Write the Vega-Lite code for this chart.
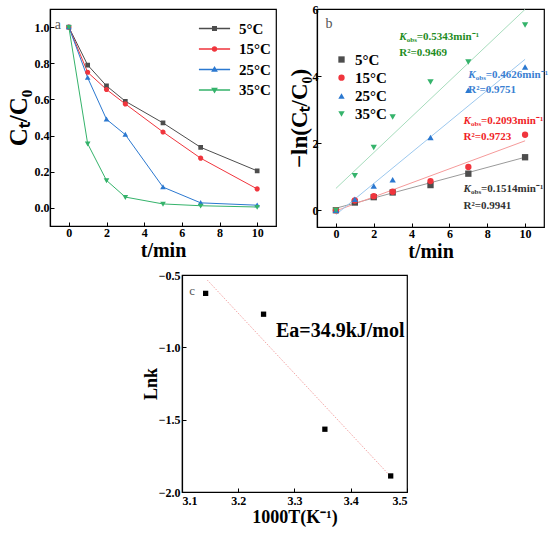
{
  "$schema": "https://vega.github.io/schema/vega-lite/v6.json",
  "padding": {"left": 5, "top": 2, "right": 0, "bottom": 0},
  "datasets": {
    "decay": [
      {"s": "5°C", "t": 0, "c": 1.0}, {"s": "5°C", "t": 1, "c": 0.79}, {"s": "5°C", "t": 2, "c": 0.675}, {"s": "5°C", "t": 3, "c": 0.59}, {"s": "5°C", "t": 5, "c": 0.47}, {"s": "5°C", "t": 7, "c": 0.335}, {"s": "5°C", "t": 10, "c": 0.205},
      {"s": "15°C", "t": 0, "c": 1.0}, {"s": "15°C", "t": 1, "c": 0.75}, {"s": "15°C", "t": 2, "c": 0.655}, {"s": "15°C", "t": 3, "c": 0.575}, {"s": "15°C", "t": 5, "c": 0.42}, {"s": "15°C", "t": 7, "c": 0.275}, {"s": "15°C", "t": 10, "c": 0.105},
      {"s": "25°C", "t": 0, "c": 1.0}, {"s": "25°C", "t": 1, "c": 0.72}, {"s": "25°C", "t": 2, "c": 0.49}, {"s": "25°C", "t": 3, "c": 0.405}, {"s": "25°C", "t": 5, "c": 0.115}, {"s": "25°C", "t": 7, "c": 0.028}, {"s": "25°C", "t": 10, "c": 0.015},
      {"s": "35°C", "t": 0, "c": 1.0}, {"s": "35°C", "t": 1, "c": 0.355}, {"s": "35°C", "t": 2, "c": 0.152}, {"s": "35°C", "t": 3, "c": 0.06}, {"s": "35°C", "t": 5, "c": 0.022}, {"s": "35°C", "t": 7, "c": 0.012}, {"s": "35°C", "t": 10, "c": 0.005}
    ],
    "lnpts": [
      {"s": "5°C", "t": 0, "v": 0}, {"s": "5°C", "t": 1, "v": 0.23}, {"s": "5°C", "t": 2, "v": 0.39}, {"s": "5°C", "t": 3, "v": 0.53}, {"s": "5°C", "t": 5, "v": 0.75}, {"s": "5°C", "t": 7, "v": 1.09}, {"s": "5°C", "t": 10, "v": 1.58},
      {"s": "15°C", "t": 0, "v": 0}, {"s": "15°C", "t": 1, "v": 0.29}, {"s": "15°C", "t": 2, "v": 0.42}, {"s": "15°C", "t": 3, "v": 0.55}, {"s": "15°C", "t": 5, "v": 0.87}, {"s": "15°C", "t": 7, "v": 1.29}, {"s": "15°C", "t": 10, "v": 2.25},
      {"s": "25°C", "t": 0, "v": 0}, {"s": "25°C", "t": 1, "v": 0.33}, {"s": "25°C", "t": 2, "v": 0.72}, {"s": "25°C", "t": 3, "v": 0.91}, {"s": "25°C", "t": 5, "v": 2.17}, {"s": "25°C", "t": 7, "v": 3.58}, {"s": "25°C", "t": 10, "v": 4.27},
      {"s": "35°C", "t": 0, "v": 0}, {"s": "35°C", "t": 1, "v": 1.03}, {"s": "35°C", "t": 2, "v": 1.87}, {"s": "35°C", "t": 3, "v": 2.78}, {"s": "35°C", "t": 5, "v": 3.82}, {"s": "35°C", "t": 7, "v": 4.42}, {"s": "35°C", "t": 10, "v": 5.52}
    ],
    "fits": [
      {"g": "5", "t": 0, "v": 0.06}, {"g": "5", "t": 10, "v": 1.58},
      {"g": "15", "t": 0, "v": -0.02}, {"g": "15", "t": 10, "v": 2.07},
      {"g": "25", "t": 0, "v": -0.13}, {"g": "25", "t": 10, "v": 4.5},
      {"g": "35", "t": 0, "v": 0.65}, {"g": "35", "t": 10, "v": 5.99}
    ],
    "notes": [
      {"g": "35", "kind": "k", "t": 3.35, "v": 5.18, "txt": "=0.5343min⁻¹"},
      {"g": "35", "kind": "r", "t": 3.35, "v": 4.7, "txt": "R²=0.9469"},
      {"g": "25", "kind": "k", "t": 7.0, "v": 4.02, "txt": "=0.4626min⁻¹"},
      {"g": "25", "kind": "r", "t": 7.0, "v": 3.58, "txt": "R²=0.9751"},
      {"g": "15", "kind": "k", "t": 6.75, "v": 2.65, "txt": "=0.2093min⁻¹"},
      {"g": "15", "kind": "r", "t": 6.75, "v": 2.19, "txt": "R²=0.9723"},
      {"g": "5", "kind": "k", "t": 6.75, "v": 0.63, "txt": "=0.1514min⁻¹"},
      {"g": "5", "kind": "r", "t": 6.75, "v": 0.12, "txt": "R²=0.9941"}
    ],
    "arr": [
      {"x": 3.142, "y": -0.627}, {"x": 3.245, "y": -0.771}, {"x": 3.354, "y": -1.566}, {"x": 3.471, "y": -1.889}
    ],
    "arrfit": [
      {"x": 3.145, "y": -0.535}, {"x": 3.469, "y": -1.885}
    ]
  },
  "vconcat": [
    {
      "spacing": 8,
      "resolve": {"scale": {"color": "independent", "shape": "independent"}, "legend": {"color": "independent", "shape": "independent"}},
      "hconcat": [
        {
          "width": 226,
          "height": 217,
          "layer": [
            {
              "data": {"name": "decay"},
              "mark": {"type": "line", "strokeWidth": 1},
              "encoding": {
                "x": {"field": "t", "type": "quantitative", "scale": {"domain": [-1, 11], "nice": false}, "axis": {"values": [0, 2, 4, 6, 8, 10], "title": "t/min", "titleFontSize": 20, "titlePadding": 2}},
                "y": {"field": "c", "type": "quantitative", "scale": {"domain": [-0.1, 1.1], "nice": false}, "axis": {"values": [0, 0.2, 0.4, 0.6, 0.8, 1.0], "format": ".1f", "title": "Cₜ/C₀", "titleFontSize": 25, "titlePadding": 3}},
                "color": {"field": "s", "type": "nominal", "scale": {"domain": ["5°C", "15°C", "25°C", "35°C"], "range": ["#4d4d4d", "#f0353d", "#2b78d0", "#35b36b"]}, "legend": {
                  "orient": "none", "legendX": 157, "legendY": 12, "title": null, "symbolSize": 12,
                  "labelFont": "Liberation Serif", "labelFontWeight": "bold", "labelFontSize": 15, "labelColor": "#000",
                  "labelOffset": 17, "rowPadding": 4.5,
                  "encoding": {"symbols": {"update": {
                    "stroke": {"signal": "datum.value === '5°C' ? '#4d4d4d' : datum.value === '15°C' ? '#f26d72' : datum.value === '25°C' ? '#4a8ad6' : '#5cc48a'"},
                    "strokeWidth": {"value": 1}}}}
                }}
              }
            },
            {
              "data": {"name": "decay"},
              "mark": {"type": "point", "filled": true, "size": 22, "opacity": 1, "strokeWidth": 0},
              "encoding": {
                "x": {"field": "t", "type": "quantitative"},
                "y": {"field": "c", "type": "quantitative"},
                "color": {"field": "s", "type": "nominal", "legend": {
                  "orient": "none", "legendX": 157, "legendY": 12, "title": null, "symbolSize": 12,
                  "labelFont": "Liberation Serif", "labelFontWeight": "bold", "labelFontSize": 15, "labelColor": "#000",
                  "labelOffset": 17, "rowPadding": 4.5,
                  "encoding": {"symbols": {"update": {
                    "stroke": {"signal": "datum.value === '5°C' ? '#4d4d4d' : datum.value === '15°C' ? '#f26d72' : datum.value === '25°C' ? '#4a8ad6' : '#5cc48a'"},
                    "strokeWidth": {"value": 1}}}}
                }},
                "shape": {"field": "s", "type": "nominal", "scale": {"domain": ["5°C", "15°C", "25°C", "35°C"], "range": [
                  "M-9,0H9M-1,-1H1V1H-1Z",
                  "M-9,0H9M1.1,0A1.1,1.1,0,1,1,-1.1,0A1.1,1.1,0,1,1,1.1,0Z",
                  "M-9,0H9M0,-1.2L1.2,0.9H-1.2Z",
                  "M-9,0H9M0,1.2L1.2,-0.9H-1.2Z"
                ]}, "legend": {
                  "orient": "none", "legendX": 157, "legendY": 12, "title": null, "symbolSize": 12,
                  "labelFont": "Liberation Serif", "labelFontWeight": "bold", "labelFontSize": 15, "labelColor": "#000",
                  "labelOffset": 17, "rowPadding": 4.5,
                  "encoding": {"symbols": {"update": {
                    "stroke": {"signal": "datum.value === '5°C' ? '#4d4d4d' : datum.value === '15°C' ? '#f26d72' : datum.value === '25°C' ? '#4a8ad6' : '#5cc48a'"},
                    "strokeWidth": {"value": 1}}}}
                }}
              }
            },
            {
              "data": {"values": [{"lab": "a", "t": -0.75, "c": 1.01}]},
              "mark": {"type": "text", "align": "left", "baseline": "middle", "fontSize": 14, "color": "#555", "font": "Liberation Serif"},
              "encoding": {
                "x": {"field": "t", "type": "quantitative"},
                "y": {"field": "c", "type": "quantitative"},
                "text": {"field": "lab"}
              }
            }
          ]
        },
        {
          "width": 227,
          "height": 218,
          "layer": [
            {
              "data": {"name": "fits"},
              "mark": {"type": "line", "strokeWidth": 1, "clip": true},
              "encoding": {
                "x": {"field": "t", "type": "quantitative", "scale": {"domain": [-1, 11], "nice": false}, "axis": {"values": [0, 2, 4, 6, 8, 10], "title": "t/min", "titleFontSize": 20, "titlePadding": 2}},
                "y": {"field": "v", "type": "quantitative", "scale": {"domain": [-0.5, 6], "nice": false}, "axis": {"values": [0, 1, 2, 3, 4, 5, 6], "format": "d", "title": "−ln(Cₜ/C₀)", "titleFontSize": 23, "titlePadding": 1, "labelPadding": 3}},
                "detail": {"field": "g"},
                "stroke": {"condition": [
                  {"test": "datum.g === '5'", "value": "#9a9a9a"},
                  {"test": "datum.g === '15'", "value": "#f59a9a"},
                  {"test": "datum.g === '25'", "value": "#9cc8ee"}
                ], "value": "#a6dcbc"}
              }
            },
            {
              "data": {"name": "lnpts"},
              "mark": {"type": "point", "filled": true, "size": 40, "opacity": 1},
              "encoding": {
                "x": {"field": "t", "type": "quantitative"},
                "y": {"field": "v", "type": "quantitative"},
                "color": {"field": "s", "type": "nominal", "scale": {"domain": ["5°C", "15°C", "25°C", "35°C"], "range": ["#4d4d4d", "#f0353d", "#2b78d0", "#35b36b"]}, "legend": {
                  "orient": "none", "legendX": 17, "legendY": 43, "title": null, "symbolSize": 40,
                  "labelFont": "Liberation Serif", "labelFontWeight": "bold", "labelFontSize": 15, "labelColor": "#000",
                  "labelOffset": 6, "rowPadding": 2.2
                }},
                "shape": {"field": "s", "type": "nominal", "scale": {"domain": ["5°C", "15°C", "25°C", "35°C"], "range": ["square", "circle", "triangle-up", "triangle-down"]}, "legend": {
                  "orient": "none", "legendX": 17, "legendY": 43, "title": null, "symbolSize": 40,
                  "labelFont": "Liberation Serif", "labelFontWeight": "bold", "labelFontSize": 15, "labelColor": "#000",
                  "labelOffset": 6, "rowPadding": 2.2
                }}
              }
            },
            {
              "data": {"name": "notes"},
              "transform": [{"filter": "datum.kind === 'k'"}],
              "mark": {"type": "text", "text": "K", "align": "left", "baseline": "middle", "fontSize": 11, "fontWeight": "bold", "fontStyle": "italic", "font": "Liberation Serif"},
              "encoding": {
                "x": {"field": "t", "type": "quantitative"},
                "y": {"field": "v", "type": "quantitative"},
                "color": {"condition": [
                  {"test": "datum.g === '5'", "value": "#333333"},
                  {"test": "datum.g === '15'", "value": "#f01e28"},
                  {"test": "datum.g === '25'", "value": "#3a80d2"}
                ], "value": "#1e8c1e"}
              }
            },
            {
              "data": {"name": "notes"},
              "transform": [{"filter": "datum.kind === 'k'"}],
              "mark": {"type": "text", "text": "obs", "align": "left", "baseline": "middle", "dx": 7.5, "dy": 3, "fontSize": 7, "fontWeight": "bold", "font": "Liberation Serif"},
              "encoding": {
                "x": {"field": "t", "type": "quantitative"},
                "y": {"field": "v", "type": "quantitative"},
                "color": {"condition": [
                  {"test": "datum.g === '5'", "value": "#333333"},
                  {"test": "datum.g === '15'", "value": "#f01e28"},
                  {"test": "datum.g === '25'", "value": "#3a80d2"}
                ], "value": "#1e8c1e"}
              }
            },
            {
              "data": {"name": "notes"},
              "transform": [{"filter": "datum.kind === 'k'"}],
              "mark": {"type": "text", "align": "left", "baseline": "middle", "dx": 17.5, "fontSize": 11, "fontWeight": "bold", "font": "Liberation Serif"},
              "encoding": {
                "x": {"field": "t", "type": "quantitative"},
                "y": {"field": "v", "type": "quantitative"},
                "text": {"field": "txt"},
                "color": {"condition": [
                  {"test": "datum.g === '5'", "value": "#333333"},
                  {"test": "datum.g === '15'", "value": "#f01e28"},
                  {"test": "datum.g === '25'", "value": "#3a80d2"}
                ], "value": "#1e8c1e"}
              }
            },
            {
              "data": {"name": "notes"},
              "transform": [{"filter": "datum.kind === 'r'"}],
              "mark": {"type": "text", "align": "left", "baseline": "middle", "fontSize": 11, "fontWeight": "bold", "font": "Liberation Serif"},
              "encoding": {
                "x": {"field": "t", "type": "quantitative"},
                "y": {"field": "v", "type": "quantitative"},
                "text": {"field": "txt"},
                "color": {"condition": [
                  {"test": "datum.g === '5'", "value": "#333333"},
                  {"test": "datum.g === '15'", "value": "#f01e28"},
                  {"test": "datum.g === '25'", "value": "#3a80d2"}
                ], "value": "#1e8c1e"}
              }
            },
            {
              "data": {"values": [{"lab": "b", "t": -0.55, "v": 5.55}]},
              "mark": {"type": "text", "align": "left", "baseline": "middle", "fontSize": 14, "color": "#555", "font": "Liberation Serif"},
              "encoding": {
                "x": {"field": "t", "type": "quantitative"},
                "y": {"field": "v", "type": "quantitative"},
                "text": {"field": "lab"}
              }
            }
          ]
        }
      ]
    },
    {
      "spacing": 0,
      "hconcat": [
        {
          "width": 91,
          "height": 217,
          "view": {"stroke": null},
          "data": {"values": [{}]},
          "mark": {"type": "point", "opacity": 0}
        },
        {
          "width": 225,
          "height": 217,
          "layer": [
            {
              "data": {"name": "arrfit"},
              "mark": {"type": "line", "strokeWidth": 1, "strokeDash": [1, 1.5], "color": "#f08c8c"},
              "encoding": {
                "x": {"field": "x", "type": "quantitative", "scale": {"domain": [3.1, 3.5], "nice": false, "zero": false}, "axis": {"values": [3.1, 3.2, 3.3, 3.4, 3.5], "format": ".1f", "title": "1000T(K⁻¹)", "titleFontSize": 18, "titlePadding": 2, "labelPadding": 7}},
                "y": {"field": "y", "type": "quantitative", "scale": {"domain": [-2, -0.5], "nice": false, "zero": false}, "axis": {"values": [-2, -1.5, -1, -0.5], "format": ".1f", "title": "Lnk", "titleFontSize": 18, "titlePadding": -2, "labelPadding": 6}}
              }
            },
            {
              "data": {"name": "arr"},
              "mark": {"type": "point", "shape": "square", "filled": true, "size": 28, "color": "#000", "opacity": 1},
              "encoding": {
                "x": {"field": "x", "type": "quantitative"},
                "y": {"field": "y", "type": "quantitative"}
              }
            },
            {
              "data": {"values": [{"lab": "Ea=34.9kJ/mol", "x": 3.267, "y": -0.885}]},
              "mark": {"type": "text", "align": "left", "baseline": "middle", "fontSize": 20, "fontWeight": "bold", "color": "#000", "font": "Liberation Serif"},
              "encoding": {
                "x": {"field": "x", "type": "quantitative"},
                "y": {"field": "y", "type": "quantitative"},
                "text": {"field": "lab"}
              }
            },
            {
              "data": {"values": [{"lab": "c", "x": 3.113, "y": -0.61}]},
              "mark": {"type": "text", "align": "left", "baseline": "middle", "fontSize": 13, "color": "#555", "font": "Liberation Serif"},
              "encoding": {
                "x": {"field": "x", "type": "quantitative"},
                "y": {"field": "y", "type": "quantitative"},
                "text": {"field": "lab"}
              }
            }
          ]
        }
      ]
    }
  ],
  "spacing": 6,
  "config": {
    "font": "Liberation Serif",
    "view": {"stroke": "#000", "strokeWidth": 1.2},
    "axis": {
      "labelFont": "Liberation Serif", "labelFontWeight": "bold", "labelFontSize": 12, "labelColor": "#000",
      "titleFont": "Liberation Serif", "titleFontWeight": "bold", "titleColor": "#000",
      "domainColor": "#000", "domainWidth": 1.2, "tickColor": "#000", "tickSize": -4, "tickWidth": 1,
      "grid": false, "labelPadding": 5
    }
  }
}
